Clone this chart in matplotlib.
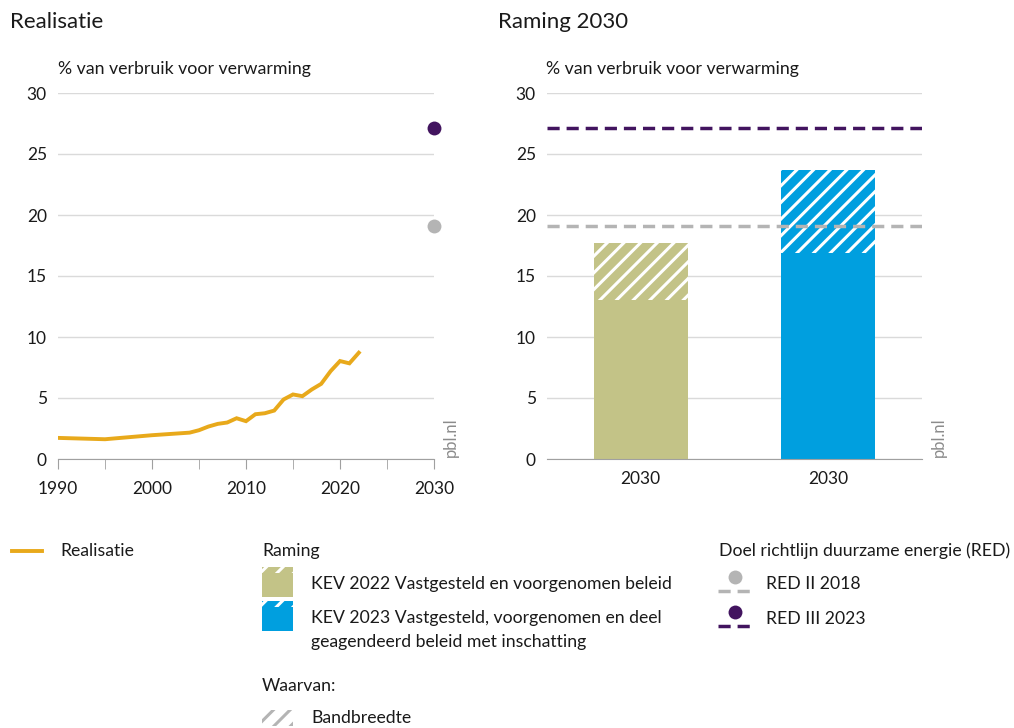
import matplotlib
matplotlib.use("Agg")
import matplotlib.pyplot as plt
from matplotlib.patches import Rectangle
from matplotlib.lines import Line2D

plt.rcParams['font.family'] = ['Lato', 'DejaVu Sans']
plt.rcParams['hatch.linewidth'] = 2.2

# data
years = [1990, 1995, 2000, 2004, 2005, 2006, 2007, 2008, 2009, 2010, 2011,
         2012, 2013, 2014, 2015, 2016, 2017, 2018, 2019, 2020, 2021, 2022]
realisatie = [1.73, 1.62, 1.95, 2.16, 2.36, 2.66, 2.88, 2.99, 3.34, 3.1, 3.67,
              3.75, 3.97, 4.88, 5.29, 5.15, 5.7, 6.16, 7.2, 8.03, 7.84, 8.71]
target_year = 2030
red2 = 19.1
red3 = 27.1

bar_labels = ['2030', '2030']
bar_low = [13.0, 16.9]      # onderkant bandbreedte
bar_high = [17.7, 23.7]     # bovenkant bandbreedte

yellow = '#E8A91B'
olive = '#C3C387'
blue = '#009FDF'
purple = '#42145F'
gray = '#B4B4B4'
grid_c = '#DADADA'
spine_c = '#A0A0A0'
txt = '#1a1a1a'

fs_tick = 12.5
fs_leg = 12.7

fig = plt.figure(figsize=(10.14, 7.28), dpi=100)

def style_axes(ax):
    ax.set_ylim(0, 30)
    ax.set_yticks([0, 5, 10, 15, 20, 25, 30])
    ax.grid(axis='y', color=grid_c, lw=1)
    ax.set_axisbelow(True)
    for s in ['top', 'right', 'left']:
        ax.spines[s].set_visible(False)
    ax.spines['bottom'].set_color(spine_c)
    ax.tick_params(axis='y', length=0, pad=8, labelsize=fs_tick, labelcolor=txt)

# left panel
ax1 = fig.add_axes([58/1014, 1 - 459/728, 376/1014, 366/728])
style_axes(ax1)
ax1.set_xlim(1990, 2030)
ax1.set_xticks(range(1990, 2031, 10))
ax1.set_xticks(range(1995, 2030, 10), minor=True)
ax1.tick_params(axis='x', which='both', length=7, color=spine_c, pad=9,
                labelsize=fs_tick, labelcolor=txt)
ax1.plot(years, realisatie, color=yellow, lw=2.8, solid_joinstyle='miter')
ax1.scatter([target_year], [red2], s=100, color=gray, clip_on=False, zorder=5, lw=0)
ax1.scatter([target_year], [red3], s=100, color=purple, clip_on=False, zorder=5, lw=0)
ax1.text(1.045, 0.005, 'pbl.nl', transform=ax1.transAxes, rotation=90,
         fontsize=12, color='#8c8c8c', ha='center', va='bottom')

# right panel
ax2 = fig.add_axes([547/1014, 1 - 459/728, 375/1014, 366/728])
style_axes(ax2)
ax2.set_xlim(-0.5, 1.5)
xs = list(range(len(bar_labels)))
band = [h - l for h, l in zip(bar_high, bar_low)]
ax2.bar(xs, bar_low, width=0.5, color=[olive, blue], lw=0)
ax2.bar(xs, band, bottom=bar_low, width=0.5, color=[olive, blue],
        edgecolor='white', hatch='//', lw=0)
ax2.axhline(red2, color=gray, lw=2.5, ls=(0, (3.5, 2)), zorder=4)
ax2.axhline(red3, color=purple, lw=2.5, ls=(0, (3.5, 2)), zorder=4)
ax2.set_xticks(xs)
ax2.set_xticklabels(bar_labels)
ax2.tick_params(axis='x', length=0, pad=9, labelsize=fs_tick, labelcolor=txt)
ax2.text(1.045, 0.005, 'pbl.nl', transform=ax2.transAxes, rotation=90,
         fontsize=12, color='#8c8c8c', ha='center', va='bottom')

# titels
fig.text(10/1014, 1 - 22/728, 'Realisatie', fontsize=16, color=txt, va='center')
fig.text(498/1014, 1 - 22/728, 'Raming 2030', fontsize=16, color=txt, va='center')
fig.text(58/1014, 1 - 69/728, '% van verbruik voor verwarming', fontsize=12.8, color=txt, va='center')
fig.text(546/1014, 1 - 69/728, '% van verbruik voor verwarming', fontsize=12.8, color=txt, va='center')

# legenda (pixel-coordinaten)
lg = fig.add_axes([0, 0, 1, 1])
lg.set_xlim(0, 1014)
lg.set_ylim(728, 0)
lg.axis('off')

def t(x, y, s):
    lg.text(x, y, s, fontsize=fs_leg, color=txt, va='center', ha='left')

lg.add_line(Line2D([12, 42], [551, 551], color=yellow, lw=2.8))
t(60, 551, 'Realisatie')

t(262, 551, 'Raming')
for y0, c in [(567, olive), (601, blue)]:
    lg.add_patch(Rectangle((262, y0 + 6), 31, 24, color=c, lw=0))
    lg.add_patch(Rectangle((262, y0), 31, 6, facecolor=c, edgecolor='white',
                           hatch='//', lw=0))
t(311, 584, 'KEV 2022 Vastgesteld en voorgenomen beleid')
t(311, 618, 'KEV 2023 Vastgesteld, voorgenomen en deel')
t(311, 642, 'geagendeerd beleid met inschatting')

t(262, 686, 'Waarvan:')
lg.add_patch(Rectangle((262, 710), 31, 16, facecolor='white', edgecolor=gray,
                       hatch='//', lw=0))
t(311, 718, 'Bandbreedte')

t(719, 551, 'Doel richtlijn duurzame energie (RED)')
for y0, c, lab in [(577, gray, 'RED II 2018'), (612, purple, 'RED III 2023')]:
    lg.scatter([735], [y0], s=100, color=c, lw=0)
    lg.add_line(Line2D([718, 750], [y0 + 14, y0 + 14], color=c, lw=2.5,
                       ls=(0, (3.5, 2))))
    t(766, y0 + 7, lab)

fig.savefig('out.png', dpi=100)
